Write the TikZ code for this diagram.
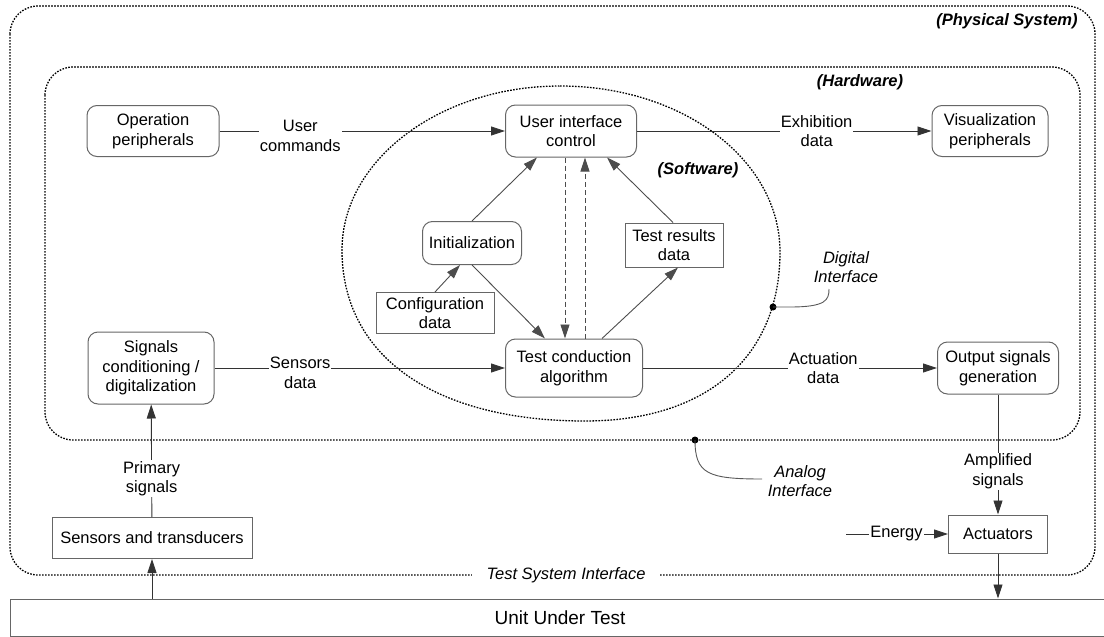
\documentclass[tikz,border=0pt]{standalone}
\usepackage{fontspec}
\setmainfont{Liberation Sans}
\usetikzlibrary{arrows.meta}
\begin{document}
\begin{tikzpicture}[x=1pt,y=-1pt,
  font=\fontsize{16.5}{19.5}\selectfont,
  box/.style={draw=black!60, line width=1pt, inner sep=0pt, align=center},
  rbox/.style={box, rounded corners=10pt},
  dotline/.style={line width=1.3pt, dash pattern=on 1.6pt off 1.4pt},
  arr/.style={line width=0.9pt, draw=black!80, -{Triangle[length=14pt,width=9pt]}},
  plainline/.style={line width=0.9pt, draw=black!65},
  dsh/.style={arr, draw=black!70, line width=0.8pt, dash pattern=on 5pt off 3pt},
  lbl/.style={fill=white, inner xsep=1pt, inner ysep=1pt, align=center},
  ital/.style={font=\fontsize{16.5}{19.5}\selectfont\itshape, align=center},
  bital/.style={font=\fontsize{16.5}{19.5}\selectfont\bfseries\itshape}]
\useasboundingbox (0,0) rectangle (1104,637);

% containers
\draw[dotline, rounded corners=28pt] (10,6) rectangle (1095,575);
\draw[dotline, rounded corners=28pt] (45,67) rectangle (1080,440);
\draw[dotline] (560,86) .. controls (683,86) and (780,160) .. (780,252)
  .. controls (780,356) and (708,421) .. (585,421)
  .. controls (434,421) and (342,356) .. (342,250)
  .. controls (342,160) and (440,86) .. (560,86) -- cycle;

\node[bital] (lphys) at (1007,21) {(Physical System)};
\node[bital] (lhw) at (860,82) {(Hardware)};
\node[bital] (lsw) at (698,170) {(Software)};
\node[ital, fill=white, inner xsep=15pt, inner ysep=2pt] (ltsi) at (566,575) {Test System Interface};

% nodes
\node[rbox, minimum width=132pt, minimum height=51pt] (op) at (153,131) {Operation\\peripherals};
\node[rbox, minimum width=131pt, minimum height=52pt] (uic) at (571,131) {User interface\\control};
\node[rbox, minimum width=116pt, minimum height=51pt] (vp) at (990,131) {Visualization\\peripherals};
\node[rbox, minimum width=99pt, minimum height=43pt] (init) at (472,243) {Initialization};
\node[box, minimum width=98pt, minimum height=44pt] (tr) at (674,245) {Test results\\data};
\node[box, minimum width=118pt, minimum height=41pt] (cfg) at (435,313) {Configuration\\data};
\node[rbox, minimum width=137pt, minimum height=58pt] (tca) at (574,368) {Test conduction\\algorithm};
\node[rbox, minimum width=126pt, minimum height=72pt] (sig) at (151,368) {Signals\\conditioning /\\digitalization};
\node[rbox, minimum width=121pt, minimum height=52pt] (out) at (998,368) {Output signals\\generation};
\node[box, minimum width=200pt, minimum height=41pt] (sens) at (152,538) {Sensors and transducers};
\node[box, minimum width=99pt, minimum height=38pt] (act) at (998,534) {Actuators};
\node[box, minimum width=1100pt, minimum height=37pt, font=\fontsize{19}{22}\selectfont] (uut) at (560,617.5) {Unit Under Test};
\coordinate (e0) at (846,534);

% connectors
\draw[arr] (op) -- node[lbl, pos=0.283, yshift=-5pt] (luc) {User\\commands} (uic);
\draw[arr] (uic) -- node[lbl, pos=0.61] (led) {Exhibition\\data} (vp);
\draw[arr] (sig) -- node[lbl, pos=0.295, yshift=-5pt] (lsd) {Sensors\\data} (tca);
\draw[arr] (tca) -- node[lbl, pos=0.613] (lad) {Actuation\\data} (out);
\draw[arr] (sens) -- node[lbl, pos=0.34] (lps) {Primary\\signals} (sig);
\draw[arr] (out) -- node[lbl, pos=0.64] (las) {Amplified\\signals} (act);
\draw[arr] (e0) -- node[lbl, pos=0.495] (len) {Energy} (act);
\draw[arr] (sens.south |- uut.north) -- (sens.south);
\draw[arr] (act.south) -- (act.south |- uut.north);

\draw[arr, draw=black!70] (init.north) -- ([xshift=-34pt]uic.south);
\draw[arr, draw=black!70] (cfg.north) -- ([xshift=-12pt]init.south);
\draw[arr, draw=black!70] (init.south) -- ([xshift=-29pt]tca.north);
\draw[dsh] ([xshift=-6pt]uic.south) -- ([xshift=-9pt]tca.north);
\draw[dsh] ([xshift=11pt]tca.north) -- ([xshift=14pt]uic.south);
\draw[arr, draw=black!70] ([xshift=28pt]tca.north) -- ([xshift=4pt]tr.south);
\draw[arr, draw=black!70] ([xshift=-1pt]tr.north) -- ([xshift=36pt]uic.south);

% interface pointers
\coordinate (dig) at (773,307);
\coordinate (ana) at (695,440);
\fill (dig) circle (3.5pt);
\fill (ana) circle (3.5pt);
\node[ital] (ldig) at (846,267) {Digital\\Interface};
\node[ital] (lana) at (800,481) {Analog\\Interface};
\draw[plainline] (dig) -- (790,307) .. controls (826,307) and (829,300) .. (829,289);
\draw[plainline] (ana) .. controls (695,474) and (708,479) .. (762,479);
\end{tikzpicture}
\end{document}
